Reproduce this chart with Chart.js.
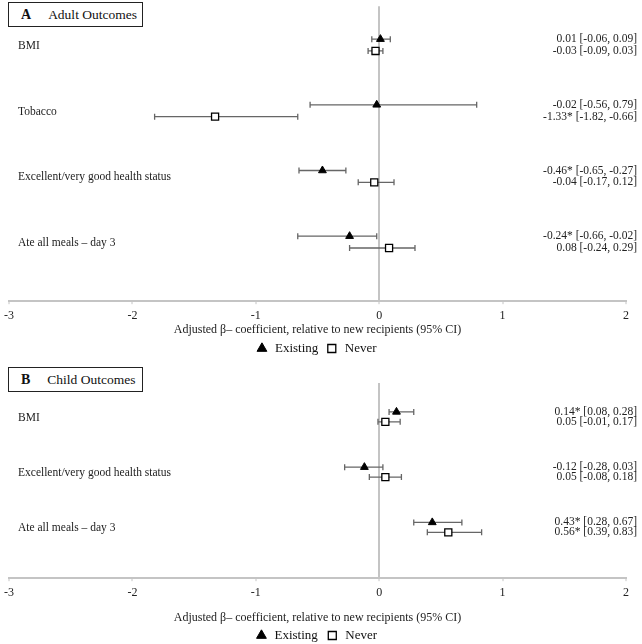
<!DOCTYPE html>
<html>
<head>
<meta charset="utf-8">
<script src="https://cdn.jsdelivr.net/npm/chart.js@4"></script>
<style>
  body { margin: 0; background: #fff; font-family: "Liberation Serif", serif; }
  #wrap { position: relative; width: 642px; height: 644px; }
  .panel { position: absolute; left: 0; width: 642px; }
  .box {
    position: absolute; left: 8px; width: 133px; height: 23px;
    border: 1.5px solid #222; background: #fff; white-space: nowrap;
    font: 13.5px "Liberation Serif", serif; color: #111;
    display: flex; align-items: center;
  }
  .box b { margin-left: 12px; margin-right: 17px; font-size: 14px; }
</style>
</head>
<body>
<div id="wrap">
  <div class="panel" style="top:0;height:358px"><canvas id="chartA"></canvas></div>
  <div class="panel" style="top:358px;height:286px"><canvas id="chartB"></canvas></div>
  <div class="box" style="top:2px"><b>A</b>Adult Outcomes</div>
  <div class="box" style="top:367px"><b>B</b>Child Outcomes</div>
</div>
<script>
// Panel A: adult outcomes
const categoriesA = ['BMI', 'Tobacco', 'Excellent/very good health status', 'Ate all meals \u2013 day 3'];
const existingA = [0.01, -0.02, -0.46, -0.24];
const existingLoA = [-0.06, -0.56, -0.65, -0.66];
const existingHiA = [0.09, 0.79, -0.27, -0.02];
const existingSigA = [false, false, true, true];
const neverA = [-0.03, -1.33, -0.04, 0.08];
const neverLoA = [-0.09, -1.82, -0.17, -0.24];
const neverHiA = [0.03, -0.66, 0.12, 0.29];
const neverSigA = [false, true, false, false];

// Panel B: child outcomes
const categoriesB = ['BMI', 'Excellent/very good health status', 'Ate all meals \u2013 day 3'];
const existingB = [0.14, -0.12, 0.43];
const existingLoB = [0.08, -0.28, 0.28];
const existingHiB = [0.28, 0.03, 0.67];
const existingSigB = [true, false, true];
const neverB = [0.05, 0.05, 0.56];
const neverLoB = [-0.01, -0.08, 0.39];
const neverHiB = [0.17, 0.18, 0.83];
const neverSigB = [false, false, true];

const xTicks = [-3, -2, -1, 0, 1, 2];
const seriesNames = ['Existing', 'Never'];
const axisTitle = 'Adjusted \u03b2\u2013 coefficient, relative to new recipients (95% CI)';

const SERIF = '"Liberation Serif", "Times New Roman", serif';
const OFF = 0.09;

function fmt(v) { return v.toFixed(2); }

const errorBars = {
  id: 'errorBars',
  beforeDatasetsDraw(chart) {
    const ctx = chart.ctx, xs = chart.scales.x;
    ctx.save();
    ctx.strokeStyle = '#666';
    ctx.lineWidth = 1.3;
    chart.data.datasets.forEach((ds, di) => {
      chart.getDatasetMeta(di).data.forEach((pt, i) => {
        const raw = ds.data[i];
        const x1 = xs.getPixelForValue(raw.lo), x2 = xs.getPixelForValue(raw.hi);
        const y = pt.y;
        ctx.beginPath();
        ctx.moveTo(x1, y); ctx.lineTo(x2, y);
        ctx.moveTo(x1, y - 3); ctx.lineTo(x1, y + 3);
        ctx.moveTo(x2, y - 3); ctx.lineTo(x2, y + 3);
        ctx.stroke();
      });
    });
    ctx.restore();
  }
};

const sideText = {
  id: 'sideText',
  afterDatasetsDraw(chart, args, opts) {
    const ctx = chart.ctx, ys = chart.scales.y;
    ctx.save();
    ctx.fillStyle = '#222';
    ctx.textBaseline = 'middle';
    ctx.font = '11.5px ' + SERIF;
    ctx.textAlign = 'left';
    opts.categories.forEach((c, i) => {
      ctx.fillText(c, 18, ys.getPixelForValue(i + 1) + 1);
    });
    ctx.textAlign = 'right';
    chart.data.datasets.forEach((ds, di) => {
      chart.getDatasetMeta(di).data.forEach((pt, i) => {
        const r = ds.data[i];
        const s = fmt(r.x) + (r.sig ? '*' : '') + ' [' + fmt(r.lo) + ', ' + fmt(r.hi) + ']';
        ctx.fillText(s, chart.width - 5, pt.y);
      });
    });
    ctx.restore();
  }
};

function points(est, lo, hi, sig, off) {
  return est.map((v, i) => ({ x: v, y: i + 1 + off, lo: lo[i], hi: hi[i], sig: sig[i] }));
}

function makeChart(id, cats, ex, exLo, exHi, exSig, nv, nvLo, nvHi, nvSig, yMin, yMax, pad, titlePad, legendPad) {
  return new Chart(document.getElementById(id), {
    type: 'scatter',
    data: {
      datasets: [
        {
          label: seriesNames[0],
          data: points(ex, exLo, exHi, exSig, -OFF),
          pointStyle: 'triangle', pointRadius: 4.5,
          backgroundColor: '#000', borderColor: '#000', borderWidth: 1
        },
        {
          label: seriesNames[1],
          data: points(nv, nvLo, nvHi, nvSig, OFF),
          pointStyle: 'rect', pointRadius: 5,
          backgroundColor: '#fff', borderColor: '#000', borderWidth: 1.3
        }
      ]
    },
    options: {
      responsive: true,
      maintainAspectRatio: false,
      animation: false,
      layout: { padding: pad },
      plugins: {
        legend: {
          position: 'bottom',
          labels: {
            usePointStyle: true, boxHeight: 8, padding: legendPad,
            color: '#111', font: { family: SERIF, size: 13 }
          }
        },
        tooltip: { enabled: false },
        sideText: { categories: cats }
      },
      scales: {
        x: {
          type: 'linear', min: -3, max: 2,
          afterBuildTicks: (s) => { s.ticks = xTicks.map(v => ({ value: v })); },
          border: { color: '#c4c4c4', width: 2 },
          grid: {
            color: (c) => c.tick && c.tick.value === 0 ? '#c4c4c4' : 'rgba(0,0,0,0)',
            lineWidth: 2, tickLength: 3, tickColor: '#c4c4c4', tickWidth: 1
          },
          ticks: { color: '#222', padding: 4, font: { family: SERIF, size: 12 } },
          title: {
            display: true, text: axisTitle, color: '#222',
            font: { family: SERIF, size: 12 }, padding: titlePad
          }
        },
        y: { display: false, reverse: true, min: yMin, max: yMax }
      }
    },
    plugins: [errorBars, sideText]
  });
}

makeChart('chartA', categoriesA, existingA, existingLoA, existingHiA, existingSigA,
  neverA, neverLoA, neverHiA, neverSigA, 0.41, 4.9,
  { top: 5, left: 6, right: 16, bottom: -7 }, { top: -4, bottom: -2 }, 7);

makeChart('chartB', categoriesB, existingB, existingLoB, existingHiB, existingSigB,
  neverB, neverLoB, neverHiB, neverSigB, 0.387, 3.92,
  { top: 25, left: 6, right: 16, bottom: -8 }, { top: 7, bottom: -4 }, 8);
</script>
</body>
</html>
